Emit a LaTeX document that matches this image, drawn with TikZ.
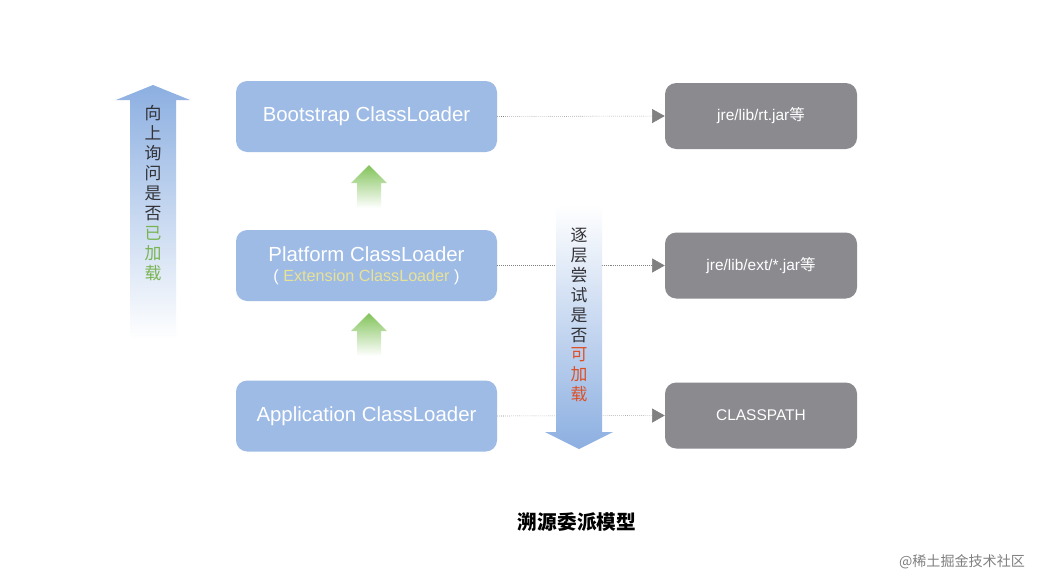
\documentclass[tikz,border=0pt]{standalone}
\usepackage{fontspec}
\setmainfont{Liberation Sans}
\newfontfamily\cjk{Noto Sans CJK SC}
\usetikzlibrary{arrows.meta}
\begin{document}
\begin{tikzpicture}[x=0.025cm,y=-0.025cm]
\definecolor{boxblue}{RGB}{158,187,230}
\definecolor{boxgrey}{RGB}{138,138,143}
\definecolor{extyel}{RGB}{232,226,150}
\definecolor{arrblue}{RGB}{140,175,225}
\definecolor{arrgreen}{RGB}{130,195,90}
\definecolor{txtgreen}{RGB}{120,180,80}
\definecolor{txtred}{RGB}{220,80,40}
\definecolor{txtdark}{RGB}{50,50,55}
\tikzset{
loader/.style={rounded corners=8,fill=boxblue,text=white,minimum width=261*0.025cm,minimum height=71*0.025cm,font=\fontsize{14.5}{16}\selectfont,align=center},
target/.style={rounded corners=8,fill=boxgrey,text=white,minimum width=192*0.025cm,minimum height=66*0.025cm,font=\fontsize{11}{13}\selectfont},
probe/.style={densely dotted,gray,-{Triangle[length=9,width=10]}},
vtext/.style={font=\cjk\fontsize{12}{14.2}\selectfont,align=center,inner sep=0,text=txtdark},
}
\useasboundingbox (0,0) rectangle (1048,580);
\fill[white] (0,0) rectangle (1048,580);

% LOADER BOXES
\node[loader] (boot) at (366.5,116.5) {Bootstrap ClassLoader};
\node[loader] (plat) at (366.5,265.5) {Platform ClassLoader\\[-2pt]{\fontsize{11.5}{13}\selectfont\color{white}( \textcolor{extyel}{Extension ClassLoader} )}};
\node[loader] (app) at (366.5,416) {Application ClassLoader};

% TARGET BOXES
\node[target] (rt) at (761,116) {jre/lib/rt.jar{\cjk 等}};
\node[target] (ext) at (761,265.5) {jre/lib/ext/*.jar{\cjk 等}};
\node[target] (cp) at (761,415.5) {CLASSPATH};
\draw[probe] (boot.east) -- (rt.west);
\draw[probe] (plat.east) -- (ext.west);
\draw[probe] (app.east) -- (cp.west);

% GREEN ARROWS
\foreach \y in {165,313}{
\shade[top color=arrgreen,bottom color=white]
(369,\y) -- (387,\y+18) -- (381,\y+18) -- (381,\y+43) -- (357,\y+43) -- (357,\y+18) -- (351,\y+18) -- cycle;
}

% LEFT ARROW (UP)
\shade[top color=arrblue,bottom color=white]
(153,85) -- (190,100) -- (176,100) -- (176,340) -- (130,340) -- (130,100) -- (116,100) -- cycle;
\node[vtext] (ask) at (153,193) {向\\上\\询\\问\\是\\否\\\textcolor{txtgreen}{已}\\\textcolor{txtgreen}{加}\\\textcolor{txtgreen}{载}};

% MIDDLE ARROW (DOWN)
\shade[top color=white,bottom color=arrblue]
(556,205) -- (602,205) -- (602,432) -- (613,432) -- (579,449) -- (545,432) -- (556,432) -- cycle;
\node[vtext] (try) at (579,315) {逐\\层\\尝\\试\\是\\否\\\textcolor{txtred}{可}\\\textcolor{txtred}{加}\\\textcolor{txtred}{载}};

% CAPTION
\node[font=\cjk\bfseries\fontsize{14}{16}\selectfont] (title) at (577,522) {溯源委派模型};
\node[font=\cjk\fontsize{10}{12}\selectfont,text=gray] (mark) at (962,562) {@稀土掘金技术社区};
\end{tikzpicture}
\end{document}
